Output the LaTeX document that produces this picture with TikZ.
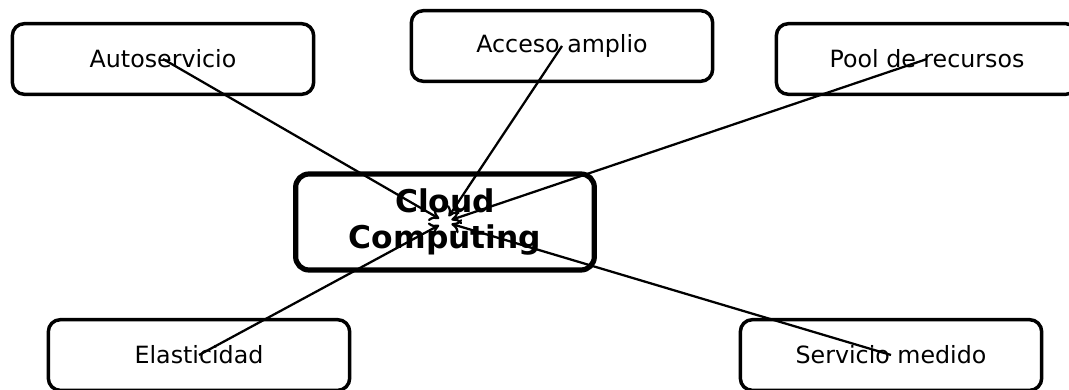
\documentclass[tikz,border=0pt]{standalone}
\usepackage{fontspec}
\setmainfont{DejaVu Sans}
\usetikzlibrary{arrows.meta}
\tikzset{
  bloc/.style={draw,line width=2.6pt,rounded corners=9pt,minimum width=226pt,minimum height=53pt,
    font=\fontsize{17.8}{21}\selectfont},
  centre/.style={draw,line width=3.9pt,rounded corners=10pt,minimum width=224pt,minimum height=72pt,
    align=center,font=\fontsize{23.5}{26.5}\selectfont\bfseries},
  lien/.style={line width=1.7pt,-{To[length=7pt,width=11pt]},shorten >=5pt}
}
\begin{document}
\begin{tikzpicture}[x=0.75pt,y=-0.75pt]
  \useasboundingbox (0,0) rectangle (1069,389);
  \node[centre] (cloud) at (445,222) {Cloud\\Computing};
  \node[bloc] (auto) at (163,59) {Autoservicio};
  \node[bloc] (acces) at (562,46) {Acceso amplio};
  \node[bloc] (pool) at (927,59) {Pool de recursos};
  \node[bloc] (elast) at (199,355) {Elasticidad};
  \node[bloc] (serv) at (891,355) {Servicio medido};
  % liens vers le centre
  \foreach \n in {auto,acces,pool,elast,serv}
    \draw[lien] (\n.center) -- (cloud.center);
\end{tikzpicture}
\end{document}
